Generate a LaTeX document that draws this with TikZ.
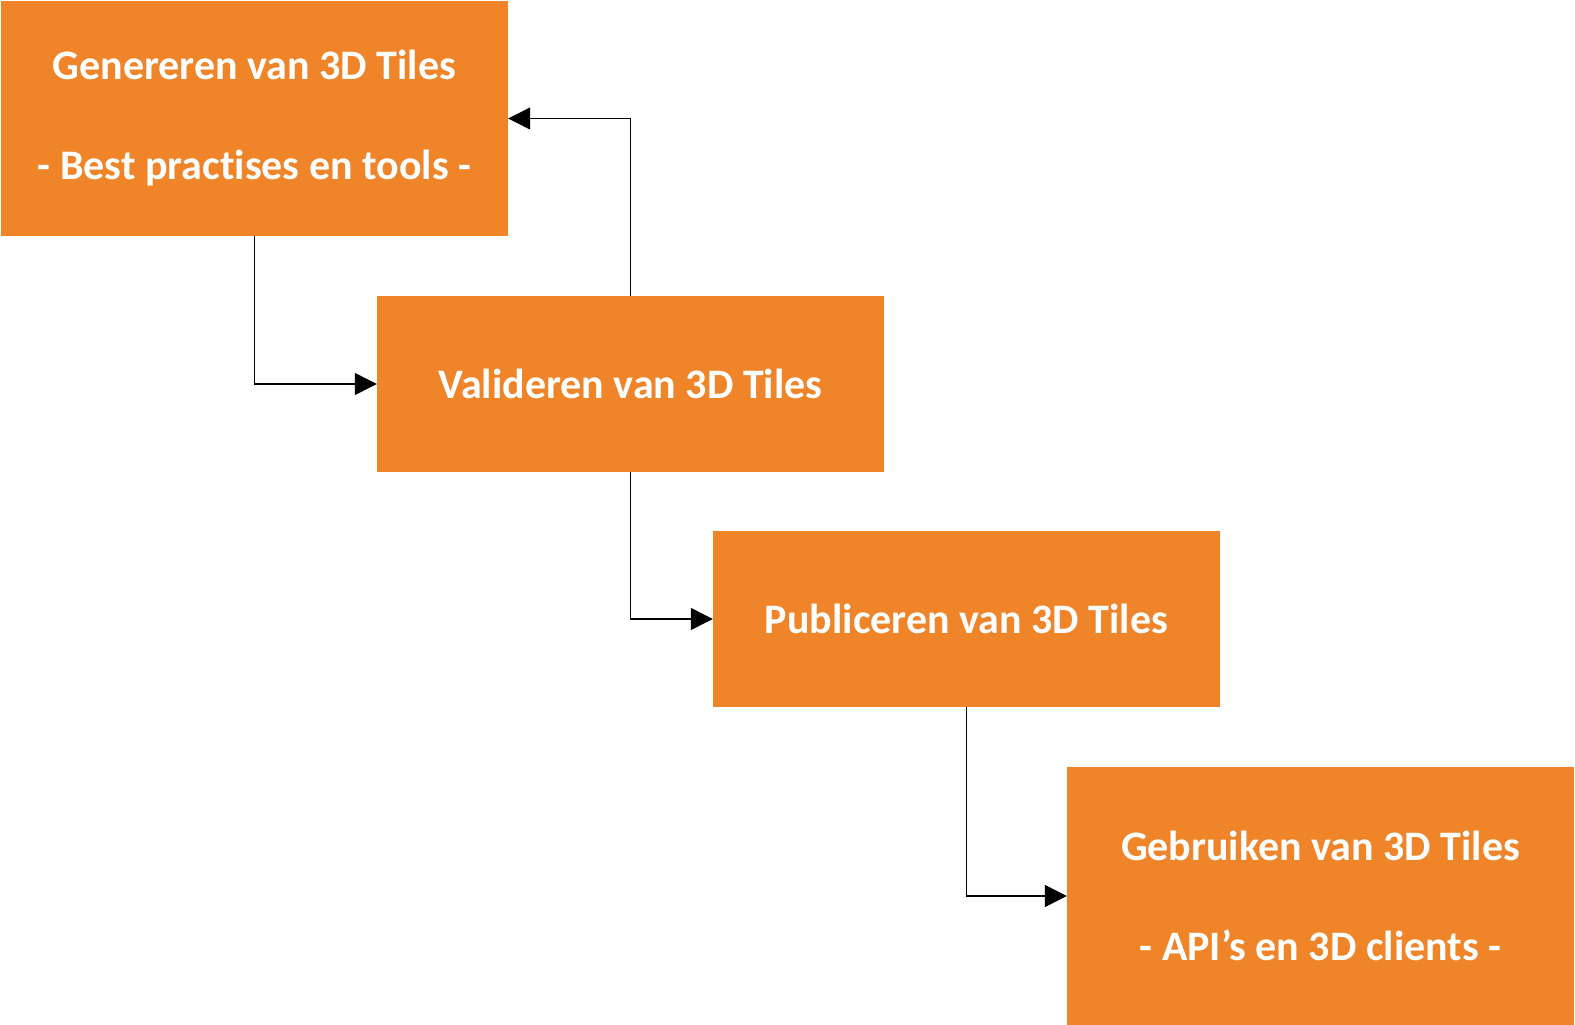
\documentclass[tikz,border=0pt]{standalone}
\usepackage{fontspec}
\setmainfont{Carlito}[Ligatures=NoCommon]
\usetikzlibrary{arrows.meta}
\definecolor{oranje}{RGB}{240,132,40}
\begin{document}
\begin{tikzpicture}[x=1pt,y=-1pt,
	blok/.style={fill=oranje,text=white,inner sep=0pt,minimum width=507pt,align=center,font=\fontsize{42}{100}\selectfont\bfseries},
	pijl/.style={draw,line width=1.2pt,-{Triangle[length=22pt,width=22pt]}}]
	\useasboundingbox (0,0) rectangle (1575,1025);
	\draw (254.5,118.5) node(v1) [blok,minimum height=235pt] {Genereren van 3D Tiles\\- Best practises en tools -};
	\draw (630.5,384) node(v2) [blok,minimum height=176pt] {Valideren van 3D Tiles};
	\draw (966.5,619) node(v3) [blok,minimum height=176pt] {Publiceren van 3D Tiles};
	\draw (1320.5,896) node(v4) [blok,minimum height=258pt] {Gebruiken van 3D Tiles\\- API’s en 3D clients -};
	\path[pijl] (v1) |- (v2);
	\path[pijl] (v2) |- (v1);
	\path[pijl] (v2) |- (v3);
	\path[pijl] (v3) |- (v4);
\end{tikzpicture}
\end{document}
